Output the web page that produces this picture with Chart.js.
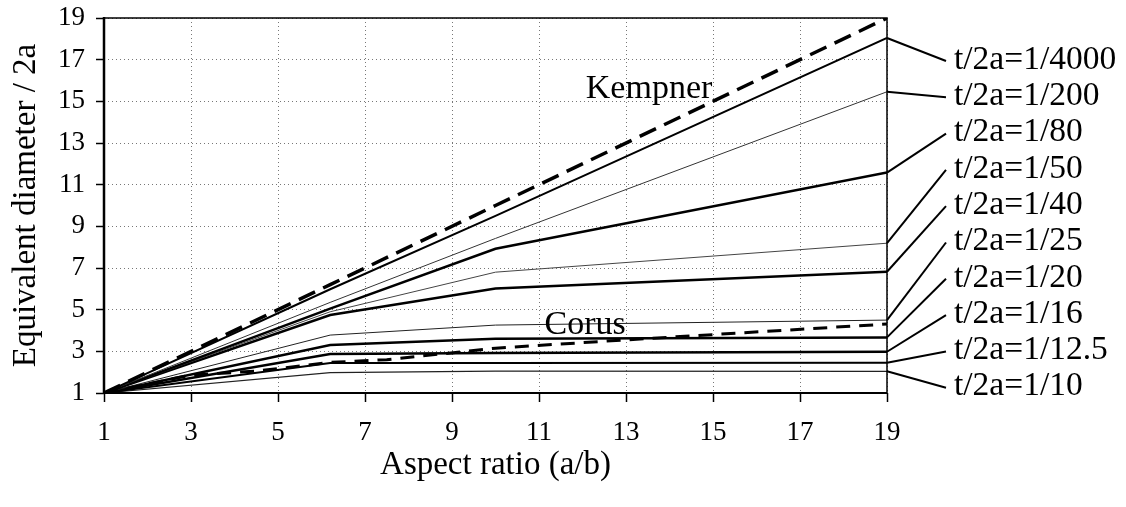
<!DOCTYPE html>
<html>
<head>
<meta charset="utf-8">
<script src="https://cdn.jsdelivr.net/npm/chart.js@4/dist/chart.umd.min.js"></script>
<style>
html,body{margin:0;padding:0;background:#fff;}
canvas{display:block;}
</style>
</head>
<body>
<canvas id="c" width="1126" height="507"></canvas>
<script>
// ---- data ----
const xTicks = [1, 3, 5, 7, 9, 11, 13, 15, 17, 19];
const yTicks = [1, 3, 5, 7, 9, 11, 13, 15, 17, 19];
const aspect = [1, 6.2, 10, 19];
const kempner = [1, 6.2, 10, 19];
const t4000 = [1, 5.98, 9.5, 18.04];
const t200 = [1, 5.35, 8.42, 15.46];
const t80 = [1, 5.05, 7.92, 11.58];
const t50 = [1, 4.9, 6.8, 8.19];
const t40 = [1, 4.74, 6.02, 6.82];
const t25 = [1, 3.78, 4.26, 4.50];
const t20 = [1, 3.30, 3.60, 3.67];
const t16 = [1, 2.87, 2.92, 2.98];
const t125 = [1, 2.44, 2.44, 2.45];
const t10 = [1, 1.98, 2.05, 2.04];
const corusAspect = [1, 3, 4.5, 6.2, 7.5, 10, 13, 19];
const corus = [1, 1.86, 2.05, 2.47, 2.6, 3.15, 3.55, 4.31];
const seriesLabels = ['t/2a=1/4000','t/2a=1/200','t/2a=1/80','t/2a=1/50','t/2a=1/40',
                      't/2a=1/25','t/2a=1/20','t/2a=1/16','t/2a=1/12.5','t/2a=1/10'];
const seriesValues = [t4000, t200, t80, t50, t40, t25, t20, t16, t125, t10];
const seriesWidths = [2, 1, 2.5, 1, 2.5, 1, 2.5, 2.5, 2, 1.2];
const seriesColors = ['#000','#333','#000','#444','#000','#222','#000','#000','#000','#222'];

const FONT = '"Liberation Serif", "Times New Roman", serif';

function pts(xs, ys){ return xs.map((v,i)=>({x:v, y:ys[i]})); }

const datasets = [];
datasets.push({label:'Kempner', data: pts(aspect, kempner), borderColor:'#000', borderWidth:3.5, borderDash:[18,9]});
datasets.push({label:'Corus', data: pts(corusAspect, corus), borderColor:'#000', borderWidth:3, borderDash:[14,9]});
seriesValues.forEach((vals,i)=>{
  datasets.push({label: seriesLabels[i], data: pts(aspect, vals), borderColor: seriesColors[i], borderWidth: seriesWidths[i]});
});
datasets.forEach(d=>{ d.pointRadius=0; d.tension=0; d.fill=false; d.borderCapStyle='butt'; });

const annot = {
  id:'annot',
  afterDatasetsDraw(chart){
    const {ctx, chartArea:a, scales:{x,y}} = chart;
    ctx.save();
    ctx.setLineDash([]);
    ctx.strokeStyle = '#000';
    // frame
    ctx.lineWidth = 1.5;
    ctx.strokeRect(a.left, a.top, a.right - a.left, a.bottom - a.top);
    ctx.lineWidth = 2.5;
    ctx.beginPath(); ctx.moveTo(a.left, a.top - 1); ctx.lineTo(a.left, a.bottom + 1); ctx.stroke();
    ctx.lineWidth = 2;
    ctx.beginPath(); ctx.moveTo(a.left, a.bottom); ctx.lineTo(a.right, a.bottom); ctx.stroke();

    // right-side labels with leader lines
    ctx.font = '33.5px ' + FONT;
    ctx.fillStyle = '#000';
    ctx.textBaseline = 'middle';
    ctx.textAlign = 'left';
    const lx = x.getPixelForValue(19);
    seriesValues.forEach((vals,i)=>{
      const py = y.getPixelForValue(vals[vals.length-1]);
      const ly = a.top + 42 + i * 36.3;
      ctx.lineWidth = 2;
      ctx.beginPath();
      ctx.moveTo(lx, py);
      ctx.lineTo(a.right + 59, ly + 1);
      ctx.stroke();
      ctx.fillText(seriesLabels[i], a.right + 67, ly);
    });

    // curve names
    ctx.font = '34px ' + FONT;
    ctx.textAlign = 'center';
    ctx.fillText('Kempner', x.getPixelForValue(13.53), y.getPixelForValue(15.6));
    ctx.fillText('Corus', x.getPixelForValue(12.06), y.getPixelForValue(4.26));
    ctx.restore();
  }
};

new Chart(document.getElementById('c'), {
  type: 'line',
  data: { datasets },
  options: {
    responsive: false,
    animation: false,
    devicePixelRatio: 1,
    layout: { padding: { left: 0, top: 18, right: 239, bottom: 0 } },
    plugins: { legend: { display: false }, tooltip: { enabled: false } },
    scales: {
      x: {
        type: 'linear', min: 1, max: 19,
        afterBuildTicks: s => { s.ticks = xTicks.map(v=>({value:v})); },
        afterFit: s => { s.height = 114; s.paddingLeft = 0; s.paddingRight = 0; },
        ticks: { color:'#000', font:{family:FONT, size:27}, padding: 15, maxRotation:0, autoSkip:false },
        grid: { color:'#777', lineWidth:1, tickColor:'#000', tickWidth:1.5, tickLength:9, tickBorderDash:[] },
        border: { display:false, dash:[1,3] },
        title: { display:true, text:'Aspect ratio (a/b)', color:'#000', font:{family:FONT, size:33}, padding:{top:0, bottom:22} }
      },
      y: {
        type: 'linear', min: 1, max: 19,
        afterBuildTicks: s => { s.ticks = yTicks.map(v=>({value:v})); },
        afterFit: s => { s.width = 104; s.paddingTop = 0; s.paddingBottom = 0; },
        ticks: { color:'#000', font:{family:FONT, size:27}, padding: 11, autoSkip:false },
        grid: { color:'#777', lineWidth:1, tickColor:'#000', tickWidth:1.5, tickLength:8, tickBorderDash:[] },
        border: { display:false, dash:[1,3] },
        title: { display:true, text:'Equivalent diameter / 2a', color:'#000', font:{family:FONT, size:33}, padding:{top:7, bottom:0} }
      }
    }
  },
  plugins: [annot]
});
</script>
</body>
</html>
